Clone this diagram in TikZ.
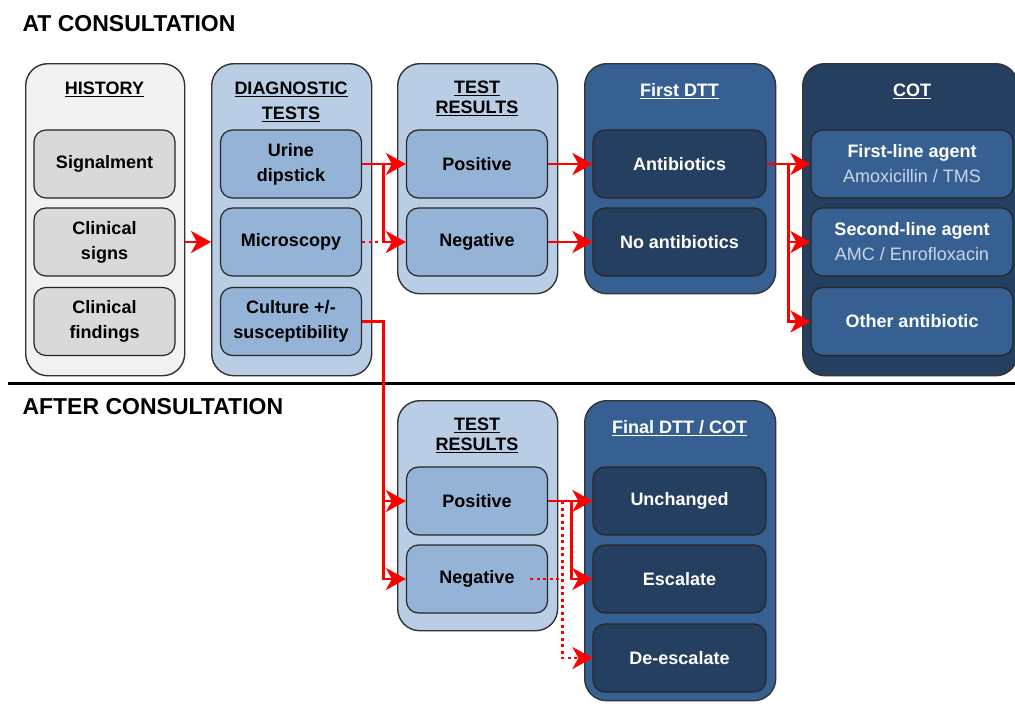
\documentclass[tikz,border=0pt]{standalone}
\usepackage{fontspec}
\setmainfont{Liberation Sans}
\usetikzlibrary{arrows.meta}
\definecolor{histbg}{HTML}{F2F2F2}
\definecolor{histin}{HTML}{D9D9D9}
\definecolor{lightbg}{HTML}{B9CDE5}
\definecolor{lightin}{HTML}{95B3D7}
\definecolor{midblue}{HTML}{376092}
\definecolor{darkblue}{HTML}{243F60}
\definecolor{subtxt}{HTML}{C9D6E8}
\begin{document}
\begin{tikzpicture}[x=1pt,y=-1pt,
  outer/.style={draw=black!80,line width=1.4pt,rounded corners=22pt,anchor=north west},
  inner/.style={draw=black!85,line width=1.2pt,rounded corners=12pt,minimum width=141pt,minimum height=68pt,align=center,font=\bfseries\fontsize{18}{25}\selectfont},
  title/.style={align=center,font=\bfseries\fontsize{18}{25}\selectfont},
  section/.style={anchor=west,font=\bfseries\fontsize{23}{26}\selectfont},
  arr/.style={red,line width=2.8pt,-{Stealth[length=20pt,width=22pt,inset=6pt]}},
  dotline/.style={red,line width=2.8pt,dash pattern=on 3pt off 3.5pt},
  dotarr/.style={dotline,-{Stealth[length=20pt,width=22pt,inset=6pt]}}]
\useasboundingbox (0,0) rectangle (1015,704);

% section labels and divider
\node[section] (atcon) at (19,24) {AT CONSULTATION};
\node[section] (aftercon) at (19,407) {AFTER CONSULTATION};
\draw[line width=3pt] (8,383) -- (1015,383);

% containers
\node[outer,fill=histbg,minimum width=159pt,minimum height=312pt] (hist) at (25,63) {};
\node[outer,fill=lightbg,minimum width=160pt,minimum height=312pt] (diag) at (211,63) {};
\node[outer,fill=lightbg,minimum width=160pt,minimum height=230pt] (res) at (397,63) {};
\node[outer,fill=midblue,minimum width=191pt,minimum height=230pt] (dtt) at (584,63) {};
\node[outer,fill=darkblue,minimum width=215pt,minimum height=312pt] (cot) at (802,63) {};
\node[outer,fill=lightbg,minimum width=160pt,minimum height=230pt] (reslow) at (397,400) {};
\node[outer,fill=midblue,minimum width=191pt,minimum height=300pt] (final) at (584,400) {};

% titles
\node[title] (histT) at (104.5,89) {\underline{HISTORY}};
\node[title] (diagT) at (291,101.5) {\underline{DIAGNOSTIC}\\\underline{TESTS}};
\node[title,font=\bfseries\fontsize{18}{20}\selectfont] (resT) at (477,98.5) {\underline{TEST}\\\underline{RESULTS}};
\node[title,white] (dttT) at (679.5,91) {\underline{First DTT}};
\node[title,white] (cotT) at (912,91) {\underline{COT}};
\node[title,font=\bfseries\fontsize{18}{20}\selectfont] (reslowT) at (477,435) {\underline{TEST}\\\underline{RESULTS}};
\node[title,white] (finalT) at (679.5,428) {\underline{Final DTT / COT}};

% history
\node[inner,fill=histin] (sig) at (104.5,164) {Signalment};
\node[inner,fill=histin] (csign) at (104.5,242) {Clinical\\signs};
\node[inner,fill=histin] (cfind) at (104.5,321.5) {Clinical\\findings};

% diagnostic tests
\node[inner,fill=lightin] (dip) at (291,164) {Urine\\dipstick};
\node[inner,fill=lightin] (mic) at (291,242) {Microscopy};
\node[inner,fill=lightin] (cul) at (291,321.5) {Culture +/-\\susceptibility};

% test results
\node[inner,fill=lightin] (pos) at (477,164) {Positive};
\node[inner,fill=lightin] (neg) at (477,242) {Negative};

% first DTT
\node[inner,fill=darkblue,text=white,minimum width=173pt] (abx) at (679.5,164) {Antibiotics};
\node[inner,fill=darkblue,text=white,minimum width=173pt] (noabx) at (679.5,242) {No antibiotics};

% COT
\node[inner,fill=midblue,text=white,minimum width=202pt] (first) at (912,164) {First-line agent\\{\mdseries\color{subtxt}Amoxicillin / TMS}};
\node[inner,fill=midblue,text=white,minimum width=202pt] (second) at (912,242) {Second-line agent\\{\mdseries\color{subtxt}AMC / Enrofloxacin}};
\node[inner,fill=midblue,text=white,minimum width=202pt] (other) at (912,321.5) {Other antibiotic};

% after consultation
\node[inner,fill=lightin] (pos2) at (477,501) {Positive};
\node[inner,fill=lightin] (neg2) at (477,579) {Negative};
\node[inner,fill=darkblue,text=white,minimum width=173pt] (unch) at (679.5,501) {Unchanged};
\node[inner,fill=darkblue,text=white,minimum width=173pt] (esc) at (679.5,579) {Escalate};
\node[inner,fill=darkblue,text=white,minimum width=173pt] (deesc) at (679.5,658) {De-escalate};

% connectors
\draw[arr] (hist.east |- csign) -- (diag.west |- csign);
\draw[arr] (dip.east) -- (pos.west);
\draw[arr] (dip.east) -- ++(21,0) |- (neg.west);
\draw[dotline] (mic.east) -- ++(21,0);
\draw[arr] (pos.east) -- (abx.west);
\draw[arr] (neg.east) -- (noabx.west);
\draw[arr] (abx.east) -- (first.west);
\foreach \t in {second,other}{
	\draw[arr] (abx.east) -- ++(22,0) |- (\t.west);
}
\foreach \t in {pos2,neg2}{
	\draw[arr] (cul.east) -- ++(21,0) |- (\t.west);
}
\draw[arr] (pos2.east) -- (unch.west);
\draw[arr] (pos2.east) -- ++(23,0) |- (esc.west);
\draw[dotarr] ([xshift=14pt]pos2.east) |- (deesc.west);
\draw[dotline] ([xshift=-18pt]neg2.east) -- ([xshift=14pt]neg2.east);
\end{tikzpicture}
\end{document}
